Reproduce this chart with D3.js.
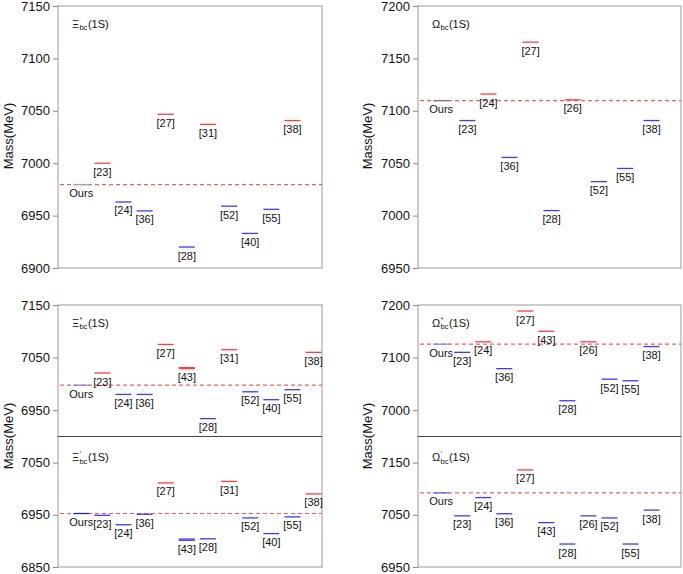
<!DOCTYPE html>
<html>
<head>
<meta charset="utf-8">
<script src="https://cdn.jsdelivr.net/npm/d3@7"></script>
<style>
  body { margin: 0; background: #fff; }
  text { font-family: "Liberation Sans", Arial, sans-serif; fill: #111; }
</style>
</head>
<body>
<script>
// ---- data (MeV) ----
// Xi_bc(1S)
var labelsXi = ["Ours","[23]","[24]","[36]","[27]","[28]","[31]","[52]","[40]","[55]","[38]"];
var massXi   = [6979.6, 7000, 6963, 6954.5, 7046.7, 6920, 7037, 6959, 6933, 6956, 7040.7];
var posXi    = [1, 2, 3, 4, 5, 6, 7, 8, 9, 10, 11];

// Omega_bc(1S)
var labelsOm = ["Ours","[23]","[24]","[36]","[27]","[28]","[26]","[52]","[55]","[38]"];
var massOm   = [7109.7, 7090.7, 7116, 7055.5, 7165.5, 7004.8, 7110.5, 7032.4, 7045, 7090.7];
var posOm    = [1, 2.25, 3.25, 4.25, 5.25, 6.25, 7.25, 8.5, 9.75, 11];

// Xi*_bc(1S)
var labelsXiS = ["Ours","[23]","[24]","[36]","[27]","[43]","[28]","[31]","[52]","[40]","[55]","[38]"];
var massXiS   = [6997.5, 7020.7, 6980, 6980, 7075, [7031, 7029], 6934, 7065, 6985, 6970, 6989, 7060];
var posXiS    = [1, 2, 3, 4, 5, 6, 7, 8, 9, 10, 11, 12];

// Omega*_bc(1S)
var labelsOmS = ["Ours","[23]","[24]","[36]","[27]","[43]","[28]","[26]","[52]","[55]","[38]"];
var massOmS   = [7125.5, 7110, 7130, 7079, 7188.5, 7150, 7018, 7130, 7059, 7056, 7121];
var posOmS    = [1, 2, 3, 4, 5, 6, 7, 8, 9, 10, 11];

// Xi'_bc(1S)
var labelsXiP = ["Ours","[23]","[24]","[36]","[27]","[43]","[28]","[31]","[52]","[40]","[55]","[38]"];
var massXiP   = [6952.5, 6949, 6931, 6951, 7011, [6903.6, 6901.2], 6904, 7014, 6944, 6914, 6946, 6990];
var posXiP    = [1, 2, 3, 4, 5, 6, 7, 8, 9, 10, 11, 12];

// Omega'_bc(1S)
var labelsOmP = ["Ours","[23]","[24]","[36]","[27]","[43]","[28]","[26]","[52]","[55]","[38]"];
var massOmP   = [7092, 7048, 7083, 7052, 7136, 7035, 6994, 7048, 7044, 6994, 7059];
var posOmP    = [1, 2, 3, 4, 5, 6, 7, 8, 9, 10, 11];

var W = 683, H = 574;
var LEFT_X = [58, 322], RIGHT_X = [418, 681];

var svg = d3.select("body").append("svg")
    .attr("width", W)
    .attr("height", H);

var panels = [
  {xr: LEFT_X,  yr: [6, 268],     dom: [6900, 7150], ticks: d3.range(6900, 7151, 50),
   labels: labelsXi,  mass: massXi,  pos: posXi,  sym: "\u039E", sup: "",  ours: "#9a9af0"},
  {xr: RIGHT_X, yr: [6, 268],     dom: [6950, 7200], ticks: d3.range(6950, 7201, 50),
   labels: labelsOm,  mass: massOm,  pos: posOm,  sym: "\u03A9", sup: "",  ours: "#777777"},
  {xr: LEFT_X,  yr: [305, 436.5], dom: [6900, 7150], ticks: [6950, 7050, 7150],
   labels: labelsXiS, mass: massXiS, pos: posXiS, sym: "\u039E", sup: "*", ours: "#8888ee"},
  {xr: RIGHT_X, yr: [305, 436.5], dom: [6950, 7200], ticks: [7000, 7100, 7200],
   labels: labelsOmS, mass: massOmS, pos: posOmS, sym: "\u03A9", sup: "*", ours: "#8888ee"},
  {xr: LEFT_X,  yr: [436.5, 567], dom: [6850, 7100], ticks: [6850, 6950, 7050],
   labels: labelsXiP, mass: massXiP, pos: posXiP, sym: "\u039E", sup: "\u2032", ours: "#2222aa"},
  {xr: RIGHT_X, yr: [436.5, 567], dom: [6950, 7200], ticks: [6950, 7050, 7150],
   labels: labelsOmP, mass: massOmP, pos: posOmP, sym: "\u03A9", sup: "\u2032", ours: "#6666ee"}
];

function drawPanel(p){
  var x = d3.scaleLinear().domain([-0.1, 12.4]).range(p.xr);
  var y = d3.scaleLinear().domain(p.dom).range([p.yr[1], p.yr[0]]);
  var g = svg.append("g");

  // frame
  g.append("rect")
      .attr("x", p.xr[0]).attr("y", p.yr[0])
      .attr("width", p.xr[1] - p.xr[0]).attr("height", p.yr[1] - p.yr[0])
      .attr("fill", "none").attr("stroke", "#999").attr("stroke-width", 1);

  // y axis
  var ax = g.append("g")
      .attr("transform", "translate(" + p.xr[0] + ",0)")
      .call(d3.axisLeft(y).tickValues(p.ticks).tickSize(5).tickPadding(3).tickFormat(d3.format("d")));
  ax.select(".domain").remove();
  ax.selectAll("line").attr("stroke", "#888");
  ax.selectAll("text").style("font-size", "13px")
      .style("font-family", "'Liberation Sans', Arial, sans-serif").attr("fill", "#111");

  var ours = p.mass[0];
  var rows = [];
  p.labels.forEach(function(l, i){
    [].concat(p.mass[i]).forEach(function(v){ rows.push({label: l, pos: p.pos[i], v: v, first: i === 0}); });
  });

  // reference (ours) dashed line
  g.append("line")
      .attr("x1", p.xr[0] + 2).attr("x2", p.xr[1])
      .attr("y1", y(ours)).attr("y2", y(ours))
      .attr("stroke", "#ff5a5a").attr("stroke-width", 1.2)
      .attr("stroke-dasharray", "4,3");

  // level lines
  g.selectAll(".lvl")
      .data(rows)
      .enter().append("line")
      .attr("class", "lvl")
      .attr("x1", function(d){ return x(d.pos) - 8; })
      .attr("x2", function(d){ return x(d.pos) + 8; })
      .attr("y1", function(d){ return y(d.v); })
      .attr("y2", function(d){ return y(d.v); })
      .attr("stroke", function(d){
        if (d.first) return p.ours;
        return d.v > ours ? "#ff3b3b" : "#3b3bff";
      })
      .attr("stroke-width", 1.3);

  // labels under each level
  var lab = p.labels.map(function(l, i){
    return {label: l, pos: p.pos[i], v: d3.min([].concat(p.mass[i]))};
  });
  g.selectAll(".lab")
      .data(lab)
      .enter().append("text")
      .attr("class", "lab")
      .attr("x", function(d){ return x(d.pos); })
      .attr("y", function(d){ return y(d.v) + 12.5; })
      .attr("text-anchor", "middle")
      .style("font-size", "11px")
      .text(function(d){ return d.label; });

  // title: symbol with super/subscripts
  var tx = p.xr[0] + 14, ty = p.yr[0] + (p.yr[0] > 430 ? 24.5 : 21.5);
  var sym = g.append("text").attr("x", tx).attr("y", ty).style("font-size", "11px").text(p.sym);
  var sw = sym.node().getComputedTextLength();
  if (p.sup) {
    g.append("text").attr("x", tx + sw + 0.5).attr("y", ty - 5)
        .style("font-size", "6.5px").text(p.sup);
  }
  var sub = g.append("text").attr("x", tx + sw + 0.3).attr("y", ty + 2.5)
      .style("font-size", "7.5px").text("bc");
  var bw = sub.node().getComputedTextLength();
  g.append("text").attr("x", tx + sw + bw + 0.8).attr("y", ty)
      .style("font-size", "11px").text("(1S)");
}

panels.forEach(drawPanel);

// darker shared border between stacked panels
[LEFT_X, RIGHT_X].forEach(function(xr){
  svg.append("line")
      .attr("x1", xr[0]).attr("x2", xr[1])
      .attr("y1", 436.5).attr("y2", 436.5)
      .attr("stroke", "#444").attr("stroke-width", 1);
});

// y axis titles
var ylabs = [[13, 136], [372, 136], [13, 436], [372, 436]];
svg.selectAll(".ylab")
    .data(ylabs)
    .enter().append("text")
    .attr("class", "ylab")
    .attr("text-anchor", "middle")
    .attr("transform", function(d){ return "translate(" + d[0] + "," + d[1] + ") rotate(-90)"; })
    .style("font-size", "13px")
    .text("Mass(MeV)");
</script>
</body>
</html>
